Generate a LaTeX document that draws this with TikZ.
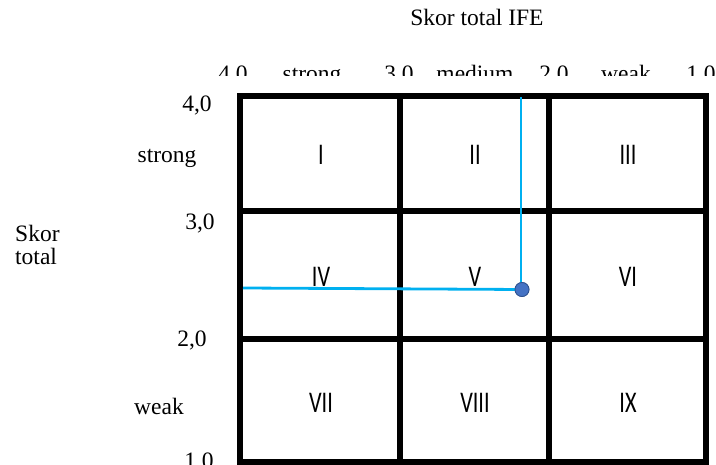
\documentclass[tikz,border=0pt]{standalone}
\usepackage{graphicx}
\usepackage{fontspec}
\setmainfont{Liberation Serif}
\newfontfamily\cellfont{Carlito}
\newcommand{\romlbl}[1]{\scalebox{0.74}[1]{#1}}
\definecolor{lineblue}{HTML}{00B0F0}
\definecolor{dotblue}{HTML}{4472C4}
\definecolor{dotedge}{HTML}{2F528F}
\begin{document}
\begin{tikzpicture}[x=1pt,y=-1pt,
  lbl/.style={anchor=base,inner sep=0pt,font=\fontsize{23.5}{23}\selectfont},
  cell/.style={inner sep=0pt,font=\fontsize{30}{30}\selectfont\cellfont},
  gridline/.style={line width=6pt,black},
  blueline/.style={line width=2.8pt,lineblue},
  dotstyle/.style={circle,fill=dotblue,draw=dotedge,line width=0.8pt,minimum size=14pt,inner sep=0pt}]
\useasboundingbox (0,0) rectangle (716,465);
\clip (0,0) rectangle (716,465);
% title
\node[lbl] (title) at (477,26) {Skor total IFE};
% top scale labels (cut off)
\begin{scope}
\clip (190,40) rectangle (716,76);
\node[lbl] (t4) at (233,82) {4,0};
\node[lbl] (ts) at (312,82) {strong};
\node[lbl] (t3) at (399,82) {3,0};
\node[lbl] (tm) at (475,82) {medium};
\node[lbl] (t2) at (554,82) {2,0};
\node[lbl] (tw) at (626,82) {weak};
\node[lbl] (t1) at (701,82) {1,0};
\end{scope}
% left scale labels
\node[lbl] (l4) at (197,112) {4,0};
\node[lbl] (ls) at (167,163) {strong};
\node[lbl] (l3) at (200,230) {3,0};
\node[lbl] (l2) at (192,347) {2,0};
\node[lbl] (lw) at (159,415) {weak};
\node[lbl] (l1) at (199,468) {1,0};
\node[lbl,anchor=base west] (skor) at (15,242) {Skor};
\node[lbl,anchor=base west] (total) at (15,265) {total};
% grid
\draw[gridline] (240,96) rectangle (706,462);
\draw[gridline] (400,96) -- (400,462);
\draw[gridline] (549,96) -- (549,462);
\draw[gridline] (240,211) -- (706,211);
\draw[gridline] (240,339) -- (706,339);
% cell labels
\node[cell] (c1) at (321,155) {\romlbl{I}};
\node[cell] (c2) at (475,155) {\romlbl{II}};
\node[cell] (c3) at (628,155) {\romlbl{III}};
\node[cell] (c4) at (321,277) {\romlbl{IV}};
\node[cell] (c5) at (475,277) {\romlbl{V}};
\node[cell] (c6) at (628,277) {\romlbl{VI}};
\node[cell] (c7) at (321,403) {\romlbl{VII}};
\node[cell] (c8) at (475,403) {\romlbl{VIII}};
\node[cell] (c9) at (628,403) {\romlbl{IX}};
% position lines
\coordinate (ptop) at (521,97);
\coordinate (pleft) at (243,288);
\node[dotstyle] (pt) at (522,289.5) {};
\draw[blueline] (ptop) -- (ptop |- pt.center);
\draw[blueline] (pleft) -- (pt.center);
\node[dotstyle] (pt2) at (pt.center) {};
\end{tikzpicture}
\end{document}
